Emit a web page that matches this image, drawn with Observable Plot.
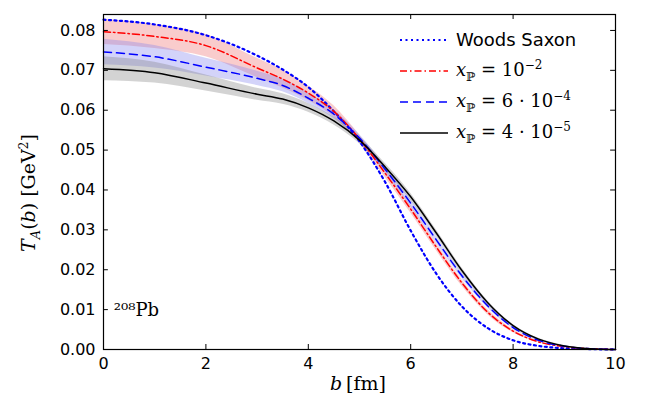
<!DOCTYPE html>
<html><head><meta charset="utf-8">
<script src="https://cdn.jsdelivr.net/npm/d3@7"></script>
<script src="https://cdn.jsdelivr.net/npm/@observablehq/plot@0.6"></script>
<style>
body{margin:0;background:#fff;}
#wrap{position:relative;width:650px;height:408px;font-family:"DejaVu Sans",sans-serif;}
#legend{position:absolute;left:398px;top:24px;font-size:18px;}
#legend div{height:31px;display:flex;align-items:center;}
#legend svg{width:52px;margin-right:6px;}
.m{font-family:"DejaVu Serif",serif;}
#ylab{position:absolute;left:10px;top:180px;transform:rotate(-90deg);transform-origin:center;font-family:"DejaVu Serif",serif;font-size:19px;white-space:nowrap;width:140px;margin-left:-50px;text-align:center}
#xlab{position:absolute;left:330px;top:372px;font-family:"DejaVu Serif",serif;font-size:19px;}
</style></head><body>
<div id="wrap">
<div id="chart"></div>
<div id="ylab"><i>T<sub style="font-size:13px">A</sub></i>(<i>b</i>) [GeV<sup style="font-size:12px">2</sup>]</div>
<div id="xlab"><i>b</i>&thinsp;[fm]</div>
<div id="legend"></div>
</div>
<script>
const bx = [0,1,2,3,3.5,4,4.5,5,5.5,6,6.5,7,7.5,8,8.5,9,9.5,10];
const woodsSaxon = [0.0827,0.0815,0.0788,0.0737,0.0702,0.0658,0.0597,0.0522,0.0420,0.0298,0.0190,0.0108,0.0054,0.0023,0.0009,0.0003,0.0001,0];
const x1e2 = [0.0797,0.0785,0.0762,0.0706,0.0678,0.0643,0.0597,0.0528,0.0442,0.0352,0.0257,0.0167,0.0094,0.0046,0.0019,0.0007,0.0002,0];
const x6e4 = [0.0746,0.0734,0.0708,0.0680,0.0662,0.0630,0.0590,0.0530,0.0452,0.0367,0.0275,0.0185,0.0110,0.0055,0.0023,0.0008,0.0002,0];
const x4e5 = [0.0704,0.0694,0.0668,0.0640,0.0628,0.0606,0.0573,0.0525,0.0458,0.0383,0.0292,0.0198,0.0118,0.0060,0.0026,0.0009,0.0002,0];
const err1e2 = [0.0032,0.0030,0.0028,0.0024,0.0022,0.0018,0.0014,0.0010,0.0010,0.0010,0.0009,0.0008,0.0006,0.0004,0.0002,0.0001,0,0];
const err6e4 = [0.0032,0.0028,0.0022,0.0018,0.0016,0.0013,0.0011,0.0009,0.0009,0.0009,0.0008,0.0007,0.0005,0.0003,0.0002,0.0001,0,0];
const err4e5 = [0.0030,0.0026,0.0020,0.0015,0.0013,0.0011,0.0010,0.0009,0.0009,0.0009,0.0008,0.0007,0.0005,0.0003,0.0002,0.0001,0,0];
const xTicks = [0,2,4,6,8,10];
const yTicks = [0,0.01,0.02,0.03,0.04,0.05,0.06,0.07,0.08];

const rows = (v, e) => bx.map((x, i) => ({x, y: v[i], lo: v[i] - (e ? e[i] : 0), hi: v[i] + (e ? e[i] : 0)}));
const Y0 = 0, Y1 = 0.084, tk = 0.00125, tkx = 0.095;
const cv = "monotone-x";

const chart = Plot.plot({
  width: 650, height: 408,
  marginLeft: 103, marginRight: 35, marginTop: 14, marginBottom: 59,
  x: {domain: [0, 10], ticks: xTicks, tickSize: 0, tickPadding: 8, label: null},
  y: {domain: [Y0, Y1], ticks: yTicks, tickSize: 0, tickPadding: 8, tickFormat: d3.format(".2f"), label: null},
  style: {fontFamily: "DejaVu Sans, sans-serif", fontSize: "16px", color: "#000"},
  marks: [
    Plot.areaY(rows(x1e2, err1e2), {x: "x", y1: "lo", y2: "hi", fill: "#f08080", fillOpacity: 0.4, curve: cv}),
    Plot.areaY(rows(x6e4, err6e4), {x: "x", y1: "lo", y2: "hi", fill: "#8080ee", fillOpacity: 0.35, curve: cv}),
    Plot.areaY(rows(x4e5, err4e5), {x: "x", y1: "lo", y2: "hi", fill: "#808080", fillOpacity: 0.35, curve: cv}),
    Plot.line(rows(woodsSaxon), {x: "x", y: "y", stroke: "blue", strokeWidth: 2.2, strokeDasharray: "2,3.5", curve: cv}),
    Plot.line(rows(x1e2), {x: "x", y: "y", stroke: "red", strokeWidth: 1.5, strokeDasharray: "7,3,1.5,3", curve: cv}),
    Plot.line(rows(x6e4), {x: "x", y: "y", stroke: "blue", strokeWidth: 1.5, strokeDasharray: "8,5", curve: cv}),
    Plot.line(rows(x4e5), {x: "x", y: "y", stroke: "black", strokeWidth: 1.5, curve: cv}),
    Plot.ruleX(xTicks, {y1: Y0, y2: Y0 + tk, stroke: "black"}),
    Plot.ruleX(xTicks, {y1: Y1 - tk, y2: Y1, stroke: "black"}),
    Plot.ruleY(yTicks, {x1: 0, x2: tkx, stroke: "black"}),
    Plot.ruleY(yTicks, {x1: 10 - tkx, x2: 10, stroke: "black"}),
    Plot.text([{x: 0.2, y: 0.0098}], {x: "x", y: "y", text: () => "²⁰⁸Pb", textAnchor: "start", fontFamily: "DejaVu Serif, serif", fontSize: 18}),
    Plot.frame({stroke: "black", strokeWidth: 1.2})
  ]
});
d3.select("#chart").append(() => chart);

const legend = [
  {html: "Woods Saxon", stroke: "blue", w: 2.2, dash: "2,3.5", sans: true},
  {html: "<i>x</i><sub style='font-size:12px'>ℙ</sub> = 10<sup style='font-size:12px'>−2</sup>", stroke: "red", w: 1.5, dash: "7,3,1.5,3"},
  {html: "<i>x</i><sub style='font-size:12px'>ℙ</sub> = 6 · 10<sup style='font-size:12px'>−4</sup>", stroke: "blue", w: 1.5, dash: "8,5"},
  {html: "<i>x</i><sub style='font-size:12px'>ℙ</sub> = 4 · 10<sup style='font-size:12px'>−5</sup>", stroke: "black", w: 1.5, dash: null}
];
const lg = d3.select("#legend");
legend.forEach(l => {
  const d = lg.append("div");
  d.append("svg").attr("height", 10).append("line").attr("x1", 2).attr("x2", 50).attr("y1", 5).attr("y2", 5)
    .attr("stroke", l.stroke).attr("stroke-width", l.w).attr("stroke-dasharray", l.dash);
  d.append("span").attr("class", l.sans ? "" : "m").html(l.html);
});
</script>
</body></html>
